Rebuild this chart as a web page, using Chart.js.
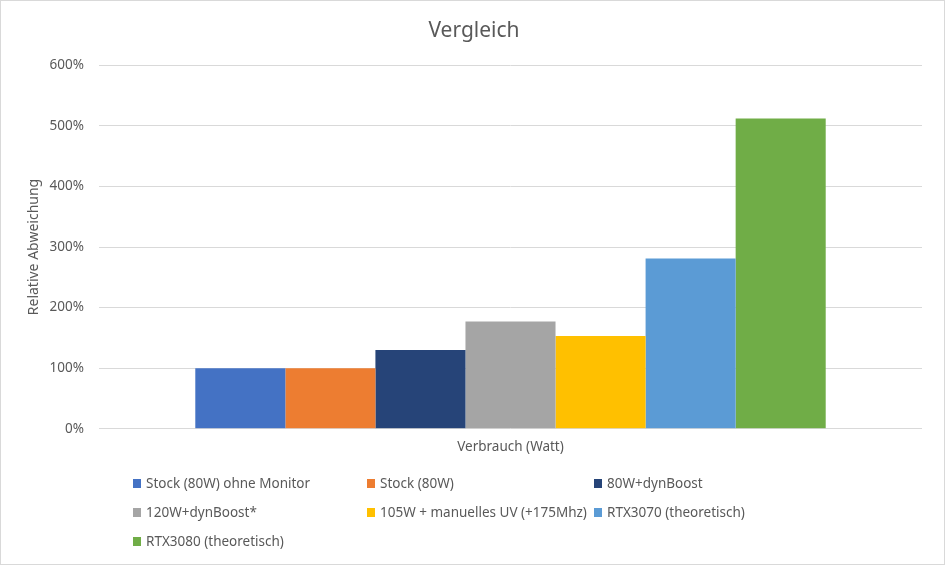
<!DOCTYPE html>
<html>
<head>
<meta charset="utf-8">
<script src="https://cdn.jsdelivr.net/npm/chart.js@4"></script>
<style>
  html, body { margin: 0; padding: 0; background: #fff; }
  #wrap { position: relative; width: 945px; height: 565px; box-sizing: border-box; border: 1px solid #d9d9d9; overflow: hidden; }
  #cv { position: absolute; left: 0; top: 0; }
  #legend { position: absolute; left: 0; top: 0; width: 945px; height: 565px; pointer-events: none;
            font-family: "Noto Sans", sans-serif; font-size: 13.5px; color: #595959; }
  .item { position: absolute; display: flex; align-items: center; white-space: nowrap; height: 18px; }
  .box { width: 8px; height: 9px; margin-right: 5px; }
</style>
</head>
<body>
<div id="wrap">
  <canvas id="cv" width="945" height="468"></canvas>
  <div id="legend"></div>
</div>
<script>
const categories = ['Verbrauch (Watt)'];
const seriesNames = [
  'Stock (80W) ohne Monitor',
  'Stock (80W)',
  '80W+dynBoost',
  '120W+dynBoost*',
  '105W + manuelles UV (+175Mhz)',
  'RTX3070 (theoretisch)',
  'RTX3080 (theoretisch)'
];
const seriesValues = [100, 100, 130, 177, 153, 281, 512];
const seriesColors = ['#4472C4', '#ED7D31', '#264478', '#A5A5A5', '#FFC000', '#5B9BD5', '#70AD47'];
const yTicks = [0, 100, 200, 300, 400, 500, 600];

const FONT = '"Noto Sans", sans-serif';
const TXT = '#595959';

const datasets = seriesNames.map((n, i) => ({
  label: n,
  data: [seriesValues[i]],
  backgroundColor: seriesColors[i],
  borderWidth: 0,
  categoryPercentage: 0.766,
  barPercentage: 1.0
}));

new Chart(document.getElementById('cv'), {
  type: 'bar',
  data: { labels: categories, datasets },
  options: {
    responsive: false,
    animation: false,
    layout: { padding: { left: 25, right: 24, top: 0, bottom: 4 } },
    plugins: {
      legend: { display: false },
      tooltip: { enabled: false },
      title: {
        display: true,
        text: 'Vergleich',
        color: TXT,
        font: { family: FONT, size: 21, weight: 'normal' },
        padding: { top: 17, bottom: 22 }
      }
    },
    scales: {
      x: {
        grid: { display: false, drawTicks: false },
        border: { display: false },
        ticks: { color: TXT, font: { family: FONT, size: 13.5 }, padding: 10 }
      },
      y: {
        min: 0, max: 600,
        afterBuildTicks: (s) => { s.ticks = yTicks.map(v => ({ value: v })); },
        afterFit: (s) => { s.width = 73; },
        grid: { color: '#d9d9d9', lineWidth: 1, drawTicks: false },
        border: { display: false },
        ticks: { color: TXT, font: { family: FONT, size: 13.5 }, padding: 15,
                 callback: (v) => v + '%' },
        title: { display: true, text: 'Relative Abweichung', color: TXT,
                 font: { family: FONT, size: 14 }, padding: { top: 0, bottom: 0 } }
      }
    }
  }
});

// Legend in three columns, built from the same series arrays
const colX = [132, 366, 593];
const rowY = [473, 502, 531];
const lg = document.getElementById('legend');
seriesNames.forEach((n, i) => {
  const d = document.createElement('div');
  d.className = 'item';
  d.style.left = colX[i % 3] + 'px';
  d.style.top = rowY[Math.floor(i / 3)] + 'px';
  const b = document.createElement('span');
  b.className = 'box';
  b.style.background = seriesColors[i];
  const t = document.createElement('span');
  t.textContent = n;
  d.appendChild(b); d.appendChild(t);
  lg.appendChild(d);
});
</script>
</body>
</html>
